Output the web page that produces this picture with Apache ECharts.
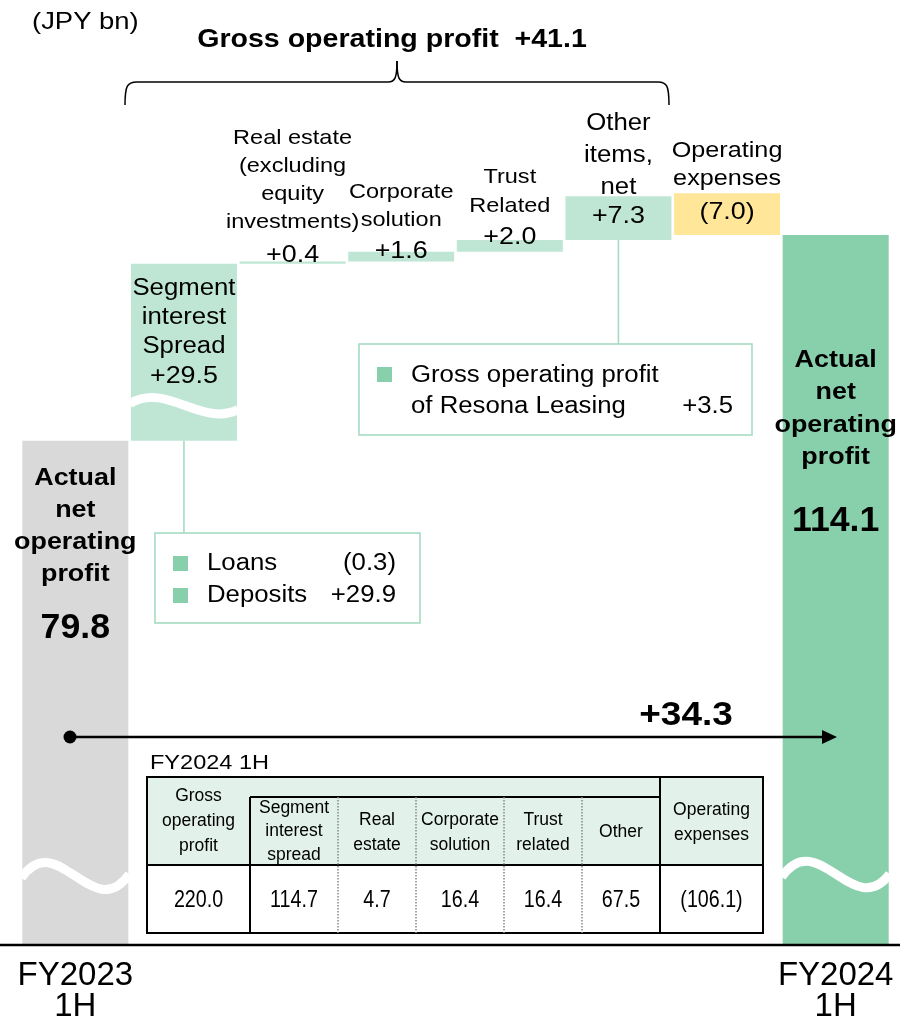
<!DOCTYPE html>
<html>
<head>
<meta charset="utf-8">
<title>Actual net operating profit FY2023 1H - FY2024 1H</title>
<script src="https://cdn.jsdelivr.net/npm/echarts@6/dist/echarts.min.js"></script>
<style>
  html, body { margin: 0; padding: 0; background: #fff; }
  #main { width: 900px; height: 1023px; }
</style>
</head>
<body>
<div id="main"></div>
<script>
// ---- data (JPY bn) ----
var categories = ['FY2023\n1H', 'Segment interest spread', 'Real estate', 'Corporate solution',
  'Trust related', 'Other items, net', 'Operating expenses', 'FY2024\n1H'];
var startValue = 79.8;
var endValue = 114.1;
var deltas = [29.5, 0.4, 1.6, 2.0, 7.3, -7.0];
var deltaLabels = ['+29.5', '+0.4', '+1.6', '+2.0', '+7.3', '(7.0)'];
var barNames = [
  'Actual\nnet\noperating\nprofit',
  'Segment\ninterest\nSpread',
  'Real estate\n(excluding\nequity\ninvestments)',
  'Corporate\nsolution',
  'Trust\nRelated',
  'Other\nitems,\nnet',
  'Operating\nexpenses',
  'Actual\nnet\noperating\nprofit'
];
var grossTotalLabel = '+41.1';
var changeLabel = '+34.3';
// breakdown boxes
var spreadItems = ['Loans', 'Deposits'];
var spreadValues = ['(0.3)', '+29.9'];
var leasingItem = 'Gross operating profit\nof Resona Leasing';
var leasingValue = '+3.5';
// FY2024 1H table
var tableTitle = 'FY2024 1H';
var tableHeaders = ['Gross\noperating\nprofit', 'Segment\ninterest\nspread', 'Real\nestate', 'Corporate\nsolution',
  'Trust\nrelated', 'Other', 'Operating\nexpenses'];
var tableValues = ['220.0', '114.7', '4.7', '16.4', '16.4', '67.5', '(106.1)'];

// ---- style ----
var FONT = '"Liberation Sans", Arial, Helvetica, sans-serif';
var SX = 1.12; // source text is drawn slightly wide
var Y_MIN = -4.2, Y_MAX = 130; // hidden axis, bottom of the broken bars
var barColors = ['#d9d9d9', '#bfe6d4', '#bfe6d4', '#bfe6d4', '#bfe6d4', '#bfe6d4', '#ffe699', '#88cfab'];
var lightLine = '#9fd9bf';
var legendGreen = '#88cfab';
// label placement relative to bar top (px)
var labelLayout = [
  { nameDy: 38, lh: 32, size: 24, bold: true, valDy: 188, valSize: 35 },
  { nameDy: 25, lh: 29, size: 23, valDy: 113, valSize: 24 },
  { nameDy: -123, lh: 28, size: 21, valDy: -6, valSize: 24 },
  { nameDy: -60, lh: 28, size: 21, valDy: 0, valSize: 24 },
  { nameDy: -63, lh: 29, size: 21, valDy: -3, valSize: 24 },
  { nameDy: -72, lh: 32, size: 23, valDy: 20, valSize: 24 },
  { nameDy: -42, lh: 28, size: 22.5, valDy: 19, valSize: 24 },
  { nameDy: 125, lh: 32.5, size: 24, bold: true, valDy: 286, valSize: 35 }
];
// white wavy cut marks on broken bars (offset up from bar bottom)
var breakCuts = {
  0: { off: 66, c1: -52, c2: 48, end: -4 },
  1: { off: 37, c1: -22, c2: 24, end: 6 },
  7: { off: 67, c1: -52, c2: 45, end: -3 }
};

// ---- waterfall ranges [index, low, high] ----
var bars = [[0, Y_MIN, startValue]];
var run = startValue;
deltas.forEach(function (d, k) {
  if (d >= 0) { bars.push([k + 1, run, run + d]); run += d; }
  else { bars.push([k + 1, endValue, endValue - d]); }
});
bars.push([categories.length - 1, Y_MIN, endValue]);

var valueTexts = [startValue.toFixed(1)].concat(deltaLabels, [endValue.toFixed(1)]);

function txt(x, y, text, size, opt) {
  opt = opt || {};
  return {
    type: 'text', x: x, y: y, scaleX: opt.sx == null ? SX : opt.sx, z: 20,
    style: {
      text: text, fill: '#000', fontFamily: FONT, fontSize: size,
      fontWeight: opt.bold ? 'bold' : 'normal',
      align: opt.align || 'center', verticalAlign: opt.va || 'middle',
      lineHeight: opt.lh || size * 1.2
    }
  };
}

function renderBar(params, api) {
  var i = api.value(0);
  var top = api.coord([i, api.value(2)]);
  var bot = api.coord([i, api.value(1)]);
  var w = api.size([1, 0])[0] * 0.976;
  var x0 = top[0] - w / 2;
  var kids = [{
    type: 'rect', shape: { x: x0, y: top[1], width: w, height: bot[1] - top[1] },
    style: { fill: barColors[i] }
  }];
  var cut = breakCuts[i];
  if (cut) {
    var yc = bot[1] - cut.off;
    kids.push({
      type: 'bezierCurve',
      shape: { x1: x0 - 1, y1: yc, cpx1: x0 + w * 0.33, cpy1: yc + cut.c1,
        cpx2: x0 + w * 0.67, cpy2: yc + cut.c2, x2: x0 + w + 1, y2: yc + cut.end },
      style: { stroke: '#fff', lineWidth: 9, fill: null }
    });
  }
  var L = labelLayout[i];
  kids.push(txt(top[0], top[1] + L.nameDy - L.lh / 2, barNames[i], L.size,
    { bold: L.bold, lh: L.lh, va: 'top' }));
  kids.push(txt(top[0], top[1] + L.valDy, valueTexts[i], L.valSize,
    { bold: L.bold, sx: L.bold ? 1.02 : SX }));
  return { type: 'group', children: kids };
}

var chart = echarts.init(document.getElementById('main'));
chart.setOption({
  animation: false,
  backgroundColor: '#fff',
  grid: { left: 21, right: 10, top: 945 - (Y_MAX - Y_MIN) * 6.0, bottom: 78 },
  xAxis: {
    type: 'category', data: categories,
    axisLine: { show: false }, axisTick: { show: false },
    axisLabel: {
      interval: 0, margin: 16, color: '#000', fontFamily: FONT, fontSize: 33, lineHeight: 31,
      formatter: function (v, idx) { return (idx === 0 || idx === categories.length - 1) ? v : ''; }
    }
  },
  yAxis: { type: 'value', min: Y_MIN, max: Y_MAX, show: false },
  series: [{
    type: 'custom', renderItem: renderBar, data: bars,
    encode: { x: 0, y: [1, 2] }, clip: false, silent: true
  }]
});

// ---- annotations ----
function px(i, v) { return chart.convertToPixel({ xAxisIndex: 0, yAxisIndex: 0 }, [i, v]); }
var g = [];
var blk = { stroke: '#000', lineWidth: 1.5, fill: null };

g.push(txt(32, 22, '(JPY bn)', 24.5, { align: 'left' }));
g.push(txt(392, 40, 'Gross operating profit  ' + grossTotalLabel, 25.5, { bold: true }));
// brace over the gross operating profit items
g.push({ type: 'bezierCurve', shape: { x1: 125, y1: 105, cpx1: 125, cpy1: 86, cpx2: 127, cpy2: 82, x2: 137, y2: 82 }, style: blk });
g.push({ type: 'line', shape: { x1: 137, y1: 82, x2: 388, y2: 82 }, style: blk });
g.push({ type: 'bezierCurve', shape: { x1: 388, y1: 82, cpx1: 395, cpy1: 82, cpx2: 397, cpy2: 78, x2: 397, y2: 61 }, style: blk });
g.push({ type: 'bezierCurve', shape: { x1: 397, y1: 61, cpx1: 397, cpy1: 78, cpx2: 399, cpy2: 82, x2: 406, y2: 82 }, style: blk });
g.push({ type: 'line', shape: { x1: 406, y1: 82, x2: 658, y2: 82 }, style: blk });
g.push({ type: 'bezierCurve', shape: { x1: 658, y1: 82, cpx1: 667, cpy1: 82, cpx2: 669, cpy2: 86, x2: 669, y2: 105 }, style: blk });

// segment spread breakdown box
var pSeg = px(1, bars[1][1]);
g.push({ type: 'line', shape: { x1: pSeg[0], y1: pSeg[1], x2: pSeg[0], y2: 533 }, style: { stroke: lightLine, lineWidth: 1.5 } });
g.push({ type: 'rect', shape: { x: 155, y: 533, width: 265, height: 90 }, style: { stroke: lightLine, lineWidth: 1.5, fill: '#fff' } });
spreadItems.forEach(function (s, k) {
  var y = 564 + k * 32;
  g.push({ type: 'rect', shape: { x: 173, y: y - 8, width: 15, height: 15 }, style: { fill: legendGreen } });
  g.push(txt(207, y, s, 23, { align: 'left' }));
  g.push(txt(396, y, spreadValues[k], 23, { align: 'right' }));
});

// other items breakdown box
var pOth = px(5, bars[5][1]);
g.push({ type: 'line', shape: { x1: pOth[0], y1: pOth[1], x2: pOth[0], y2: 344 }, style: { stroke: lightLine, lineWidth: 1.5 } });
g.push({ type: 'rect', shape: { x: 359, y: 344, width: 393, height: 91 }, style: { stroke: lightLine, lineWidth: 1.5, fill: '#fff' } });
g.push({ type: 'rect', shape: { x: 377, y: 367, width: 15, height: 15 }, style: { fill: legendGreen } });
g.push(txt(411, 376 - 15.5, leasingItem, 23, { align: 'left', va: 'top', lh: 31 }));
g.push(txt(733, 407, leasingValue, 23, { align: 'right' }));

// total change arrow
g.push({ type: 'line', shape: { x1: 70, y1: 737, x2: 824, y2: 737 }, style: { stroke: '#000', lineWidth: 2.5 } });
g.push({ type: 'circle', shape: { cx: 70, cy: 737, r: 6.5 }, style: { fill: '#000' } });
g.push({ type: 'polygon', shape: { points: [[822, 730], [837, 737], [822, 744]] }, style: { fill: '#000' } });
g.push(txt(686, 716, changeLabel, 33, { bold: true }));

// FY2024 1H table
var cols = [147, 250, 338, 416, 504, 582, 660, 763];
var tTop = 777, tSub = 797, tHead = 865, tBot = 933;
g.push(txt(150, 763, tableTitle, 21, { align: 'left' }));
g.push({ type: 'rect', shape: { x: cols[0], y: tTop, width: cols[7] - cols[0], height: tHead - tTop }, style: { fill: '#e2f2ea' } });
var tl = { stroke: '#000', lineWidth: 2, fill: null };
var dl = { stroke: '#888', lineWidth: 1.5, lineDash: [1.5, 1.5], fill: null };
g.push({ type: 'rect', shape: { x: cols[0], y: tTop, width: cols[7] - cols[0], height: tBot - tTop }, style: tl });
g.push({ type: 'line', shape: { x1: cols[1], y1: tSub, x2: cols[6], y2: tSub }, style: tl });
g.push({ type: 'line', shape: { x1: cols[0], y1: tHead, x2: cols[7], y2: tHead }, style: tl });
g.push({ type: 'line', shape: { x1: cols[1], y1: tSub, x2: cols[1], y2: tBot }, style: tl });
g.push({ type: 'line', shape: { x1: cols[6], y1: tTop, x2: cols[6], y2: tBot }, style: tl });
[2, 3, 4, 5].forEach(function (c) {
  g.push({ type: 'line', shape: { x1: cols[c], y1: tSub, x2: cols[c], y2: tBot }, style: dl });
});
var headCy = [821, 831.5, 832.5, 832.5, 832.5, 832, 822.5];
var headLh = [25, 23.5, 25, 25, 25, 25, 25];
tableHeaders.forEach(function (h, c) {
  var cx = (cols[c] + cols[c + 1]) / 2;
  g.push(txt(cx, headCy[c], h, 17.5, { sx: 1, lh: headLh[c] }));
  g.push(txt(cx, 900, tableValues[c], 24, { sx: 0.82 }));
});

// baseline
g.push({ type: 'line', shape: { x1: 0, y1: 945, x2: 900, y2: 945 }, style: { stroke: '#000', lineWidth: 2.5 } });

// annotations sit above the bars
g.forEach(function (e) { e.z = (e.z || 0) + 30; });
chart.setOption({ graphic: { elements: g } });
</script>
</body>
</html>
